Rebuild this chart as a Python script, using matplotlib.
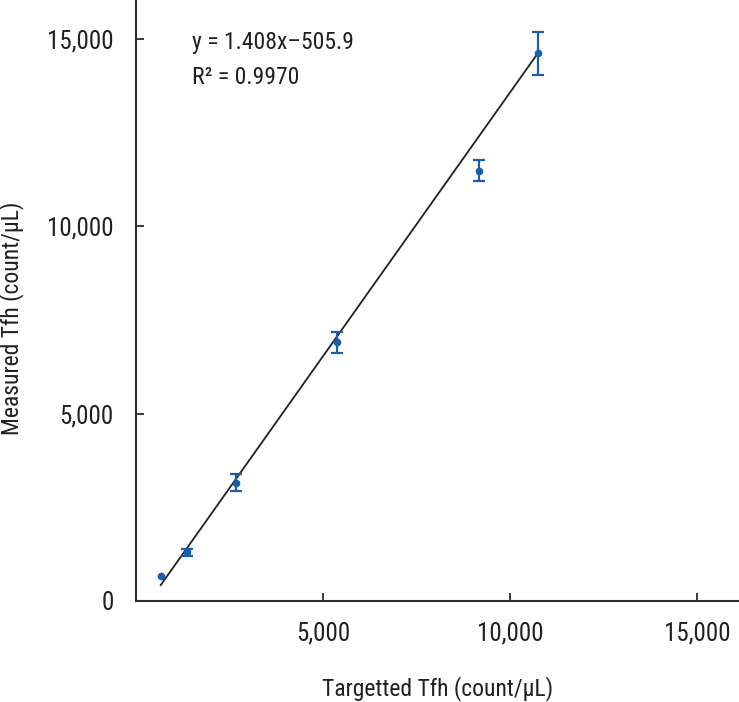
import matplotlib.pyplot as plt
from matplotlib.ticker import FuncFormatter

plt.rcParams['font.family'] = ['Roboto Condensed', 'DejaVu Sans']

# values
targeted = [660, 1370, 2670, 5370, 9180, 10750]
measured = [667, 1300, 3150, 6905, 11480, 14620]
sd = [0, 90, 227, 276, 280, 569]   # first point has no visible bar
slope = 1.408
intercept = -505.9

ticks = [0, 5000, 10000, 15000]
txt = '#231f20'
blue = '#1a5dab'
fs = 17

fig = plt.figure(figsize=(7.39, 7.02), dpi=100)
ax = fig.add_axes([136 / 739, 101 / 702, 603 / 739, 601 / 702])

# regression line over the measured range
x0, x1 = min(targeted), max(targeted)
ax.plot([x0, x1], [slope * x0 + intercept, slope * x1 + intercept],
        color=txt, lw=1.3, zorder=2)

# error bars only where there is a spread, markers for all points
eb = [i for i in range(len(sd)) if sd[i] > 0]
ax.errorbar([targeted[i] for i in eb], [measured[i] for i in eb],
            yerr=[sd[i] for i in eb], fmt='none', ecolor=blue,
            elinewidth=1.6, capsize=4.5, capthick=1.6, zorder=3)
ax.plot(targeted, measured, 'o', color=blue, ms=4.5, zorder=4)

ax.set_xlim(0, 16120)
ax.set_ylim(0, 16040)
ax.set_xticks(ticks[1:])
ax.set_yticks(ticks)
fmt = FuncFormatter(lambda v, p: f'{int(v):,}')
ax.xaxis.set_major_formatter(fmt)
ax.yaxis.set_major_formatter(fmt)

for s in ['top', 'right']:
    ax.spines[s].set_visible(False)
for s in ['left', 'bottom']:
    ax.spines[s].set_color('#2b2b2b')
    ax.spines[s].set_linewidth(1.5)

ax.tick_params(axis='x', direction='in', length=6, width=1.3, pad=15,
               labelsize=18, colors='#2b2b2b', labelcolor=txt)
ax.tick_params(axis='y', direction='in', length=6, width=1.3, pad=16,
               labelsize=18, colors='#2b2b2b', labelcolor=txt)

ax.set_xlabel('Targetted Tfh (count/\u03bcL)', fontsize=fs, color=txt, va='center')
ax.set_ylabel('Measured Tfh (count/\u03bcL)', fontsize=fs, color=txt, va='center')
ax.xaxis.set_label_coords(0.5, -0.145)
ax.yaxis.set_label_coords(-0.206, 0.47)

fig.text(192 / 739, 1 - 42 / 702, 'y = 1.408x\u2013505.9', fontsize=fs,
         color=txt, va='center')
fig.text(192 / 739, 1 - 78 / 702, 'R\u00b2 = 0.9970', fontsize=fs,
         color=txt, va='center')

fig.savefig('out.png', dpi=100)
